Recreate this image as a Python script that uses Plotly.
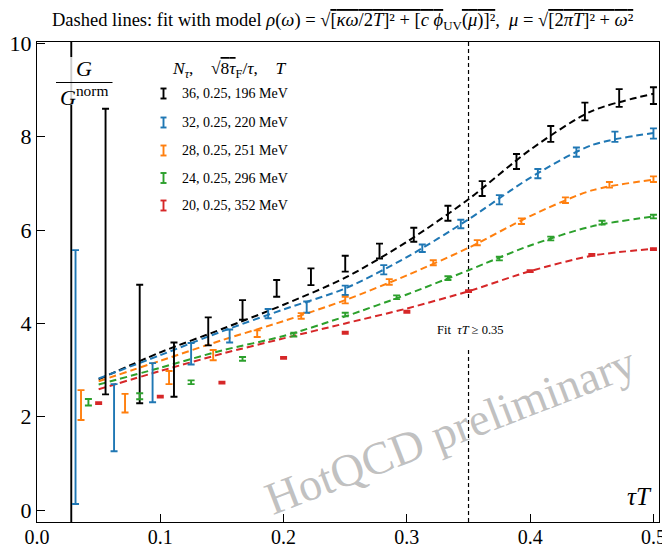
import plotly.graph_objects as go

# ---------------- data ----------------
# N_tau = 36, T = 196 MeV
tauT_36 = [0.0278, 0.0556, 0.0833, 0.1111, 0.1389, 0.1667, 0.1944, 0.2222, 0.25,
           0.2778, 0.3056, 0.3333, 0.3611, 0.3889, 0.4167, 0.4444, 0.4722, 0.5]
G_36 = [2.5, 5.54, 3.56, 3.01, 3.83, 4.29, 4.75, 5.00, 5.28,
        5.55, 5.90, 6.36, 6.89, 7.47, 8.06, 8.54, 8.83, 8.88]
err_36 = [12.0, 3.06, 1.27, 0.58, 0.30, 0.21, 0.18, 0.18, 0.17,
          0.16, 0.15, 0.16, 0.16, 0.16, 0.17, 0.19, 0.19, 0.18]

# N_tau = 32, T = 220 MeV
tauT_32 = [0.03125, 0.0625, 0.09375, 0.125, 0.15625, 0.1875, 0.21875, 0.25,
           0.28125, 0.3125, 0.34375, 0.375, 0.40625, 0.4375, 0.46875, 0.5]
G_32 = [2.85, 1.98, 2.73, 3.35, 3.73, 4.21, 4.35, 4.71,
        5.15, 5.61, 6.13, 6.65, 7.21, 7.67, 8.00, 8.07]
err_32 = [2.72, 0.72, 0.42, 0.23, 0.14, 0.10, 0.12, 0.10,
          0.10, 0.08, 0.09, 0.10, 0.10, 0.10, 0.11, 0.11]

# N_tau = 28, T = 251 MeV
tauT_28 = [0.0357, 0.0714, 0.1071, 0.1429, 0.1786, 0.2143, 0.25,
           0.2857, 0.3214, 0.3571, 0.3929, 0.4286, 0.4643, 0.5]
G_28 = [2.25, 2.29, 2.84, 3.32, 3.78, 4.16, 4.50,
        4.89, 5.30, 5.73, 6.19, 6.64, 6.97, 7.09]
err_28 = [0.32, 0.20, 0.14, 0.11, 0.07, 0.06, 0.07,
          0.06, 0.055, 0.055, 0.06, 0.06, 0.06, 0.06]

# N_tau = 24, T = 296 MeV
tauT_24 = [0.0417, 0.0833, 0.125, 0.1667, 0.2083, 0.25,
           0.2917, 0.3333, 0.375, 0.4167, 0.4583, 0.5]
G_24 = [2.31, 2.44, 2.74, 3.24, 3.76, 4.19, 4.56, 4.97, 5.39, 5.82, 6.16, 6.29]
err_24 = [0.07, 0.065, 0.04, 0.04, 0.04, 0.04, 0.04, 0.04, 0.04, 0.04, 0.04, 0.04]

# N_tau = 20, T = 352 MeV
tauT_20 = [0.05, 0.1, 0.15, 0.2, 0.25, 0.3, 0.35, 0.4, 0.45, 0.5]
G_20 = [2.29, 2.43, 2.73, 3.26, 3.80, 4.25, 4.69, 5.12, 5.47, 5.59]
err_20 = [0.02, 0.02, 0.02, 0.02, 0.02, 0.02, 0.02, 0.02, 0.02, 0.02]

fit_tauT = [0.05, 0.1, 0.15, 0.2, 0.25, 0.3, 0.35, 0.4, 0.45, 0.5]
fit_36 = [2.80, 3.38, 3.88, 4.40, 4.98, 5.75, 6.66, 7.72, 8.55, 8.92]
fit_32 = [2.82, 3.32, 3.83, 4.30, 4.75, 5.42, 6.23, 7.12, 7.82, 8.08]
fit_28 = [2.76, 3.20, 3.64, 4.05, 4.50, 5.03, 5.62, 6.30, 6.85, 7.08]
fit_24 = [2.69, 3.05, 3.42, 3.73, 4.15, 4.62, 5.14, 5.67, 6.08, 6.29]
fit_20 = [2.59, 2.98, 3.35, 3.68, 4.00, 4.32, 4.69, 5.12, 5.45, 5.60]

legend_labels = ["36, 0.25, 196 MeV", "32, 0.25, 220 MeV", "28, 0.25, 251 MeV",
                 "24, 0.25, 296 MeV", "20, 0.25, 352 MeV"]
colors = ["#000000", "#1f77b4", "#ff7f0e", "#2ca02c", "#d62728"]

x_ticks = [0.0, 0.1, 0.2, 0.3, 0.4, 0.5]
x_ticklabels = ["0.0", "0.1", "0.2", "0.3", "0.4", "0.5"]
y_ticks = [0, 2, 4, 6, 8, 10]
y_ticklabels = ["0", "2", "4", "6", "8", "10"]
fit_cut = 0.35

# ---------------- figure ----------------
SERIF = "Liberation Serif, DejaVu Serif, serif"
OL = "<span style='text-decoration:overline'>"
ES = "\u2002"  # en space (not collapsed)
fig = go.Figure()

series = [
    (tauT_36, G_36, err_36, fit_36),
    (tauT_32, G_32, err_32, fit_32),
    (tauT_28, G_28, err_28, fit_28),
    (tauT_24, G_24, err_24, fit_24),
    (tauT_20, G_20, err_20, fit_20),
]

for (x, y, e, f), c, lab in zip(series, colors, legend_labels):
    fig.add_trace(go.Scatter(
        x=fit_tauT, y=f, mode="lines", line=dict(color=c, width=2, dash="7px,4px",
                                                 shape="spline", smoothing=0.8),
        showlegend=False, hoverinfo="skip"))
for (x, y, e, f), c, lab in zip(series, colors, legend_labels):
    fig.add_trace(go.Scatter(
        x=x, y=y, mode="markers", marker=dict(size=1, color=c, opacity=0),
        error_y=dict(type="data", array=e, visible=True, color=c,
                     thickness=1.9, width=3.5),
        name=lab, showlegend=False))

# screen-pixel -> paper helpers (plot area on screen: x 37..659, y 42..522)
def px(xp):
    return (xp - 37) / 622

def py(yp):
    return (522 - yp) / 480

shapes = []
# vertical dashed line at fit cut
shapes.append(dict(type="line", xref="x", yref="paper", x0=fit_cut, x1=fit_cut, y0=0, y1=1,
                   line=dict(color="black", width=1.2, dash="4px,3px"), layer="below"))
# white gap behind the "Fit" text
shapes.append(dict(type="rect", xref="x", yref="paper", x0=fit_cut - 0.006, x1=fit_cut + 0.006,
                   y0=py(350), y1=py(300), fillcolor="white", line=dict(width=0), layer="below"))
# semi-transparent white box behind the y-label fraction
shapes.append(dict(type="rect", xref="paper", yref="paper",
                   x0=px(53), x1=px(115), y0=py(105), y1=py(57),
                   fillcolor="rgba(255,255,255,0.8)", line=dict(width=0), layer="above"))
# fraction bar
shapes.append(dict(type="line", xref="paper", yref="paper",
                   x0=px(56), x1=px(112.5), y0=py(82.5), y1=py(82.5),
                   line=dict(color="black", width=1.2), layer="above"))

# legend symbols (error-bar glyphs)
leg_rows = [93.5, 122.5, 150.5, 178, 205.5]
for c, ry in zip(colors, leg_rows):
    sx = px(163.5)
    cap = 3 / 622
    y0 = py(ry + 5)
    y1 = py(ry - 5)
    shapes.append(dict(type="line", xref="paper", yref="paper", x0=sx, x1=sx, y0=y0, y1=y1,
                       line=dict(color=c, width=1.9)))
    for yy in (y0, y1):
        shapes.append(dict(type="line", xref="paper", yref="paper", x0=sx - cap, x1=sx + cap,
                           y0=yy, y1=yy, line=dict(color=c, width=1.9)))

annotations = []
for lab, ry in zip(legend_labels, leg_rows):
    annotations.append(dict(xref="paper", yref="paper", x=px(180), y=py(ry),
                            xanchor="left", yanchor="middle", showarrow=False, text=lab,
                            font=dict(family=SERIF, size=14, color="black")))
annotations.append(dict(
    xref="paper", yref="paper", x=px(170), y=py(69),
    xanchor="left", yanchor="middle", showarrow=False,
    text=("<i>N</i><sub><i>τ</i></sub>," + ES + ES + "√" + OL + "8<i>τ</i></span><sub>F</sub>"
          "/<i>τ</i>," + ES + ES + "<i>T</i>"),
    font=dict(family=SERIF, size=17.5, color="black")))
# y-label fraction
annotations.append(dict(xref="paper", yref="paper", x=px(84), y=py(68),
                        xanchor="center", yanchor="middle", showarrow=False, text="<i>G</i>",
                        font=dict(family=SERIF, size=22, color="black")))
annotations.append(dict(xref="paper", yref="paper", x=px(84), y=py(96),
                        xanchor="center", yanchor="middle", showarrow=False,
                        text="<i>G</i><sup>norm</sup>",
                        font=dict(family=SERIF, size=22, color="black")))
# x-label inside
annotations.append(dict(xref="paper", yref="paper", x=px(654), y=py(496),
                        xanchor="right", yanchor="middle", showarrow=False, text="<i>τT</i>",
                        font=dict(family=SERIF, size=25, color="black")))
# fit text
annotations.append(dict(xref="x", yref="paper", x=fit_cut + 0.0015, y=py(330),
                        xanchor="center", yanchor="middle", showarrow=False,
                        text="Fit  <i>τT</i> ≥ 0.35",
                        font=dict(family=SERIF, size=12.5, color="black")))
# watermark
annotations.append(dict(xref="paper", yref="paper", x=px(450), y=py(430),
                        xanchor="center", yanchor="middle", showarrow=False,
                        text="HotQCD preliminary", textangle=-21,
                        font=dict(family=SERIF, size=46, color="rgba(165,165,165,0.7)")))
# title
annotations.append(dict(
    xref="paper", yref="paper", x=px(343), y=py(21),
    xanchor="center", yanchor="middle", showarrow=False,
    text=("Dashed lines: fit with model <i>ρ</i>(<i>ω</i>) = √" + OL +
          "[<i>κω</i>/2<i>T</i>]² + [<i>c</i> <i>ϕ</i></span><sub>UV</sub>" + OL +
          "(<i>μ</i>)]²</span>," + ES +
          "<i>μ</i> = √" + OL + "[2<i>πT</i>]² + <i>ω</i>²</span>"),
    font=dict(family=SERIF, size=18.5, color="black")))

# The page body adds an 8px offset; figure size and margins compensate for it
fig.update_layout(
    width=662, height=541,
    margin=dict(l=29, r=11, t=34, b=27, autoexpand=False),
    paper_bgcolor="white", plot_bgcolor="white",
    shapes=shapes, annotations=annotations,
    showlegend=False,
    xaxis=dict(range=[0, 0.5045], tickvals=x_ticks, ticktext=x_ticklabels,
               ticks="inside", ticklen=8, tickwidth=1.2, tickcolor="black",
               showline=True, linecolor="black", linewidth=1.3, mirror=True,
               showgrid=False, zeroline=False, automargin=False,
               ticklabelstandoff=-3,
               tickfont=dict(family=SERIF, size=20, color="black")),
    yaxis=dict(range=[-0.255, 10.03], tickvals=y_ticks, ticktext=y_ticklabels,
               ticks="inside", ticklen=8, tickwidth=1.2, tickcolor="black",
               showline=True, linecolor="black", linewidth=1.3, mirror=True,
               showgrid=False, zeroline=False, automargin=False,
               tickfont=dict(family=SERIF, size=22, color="black")),
)

fig.write_html("out.html")
